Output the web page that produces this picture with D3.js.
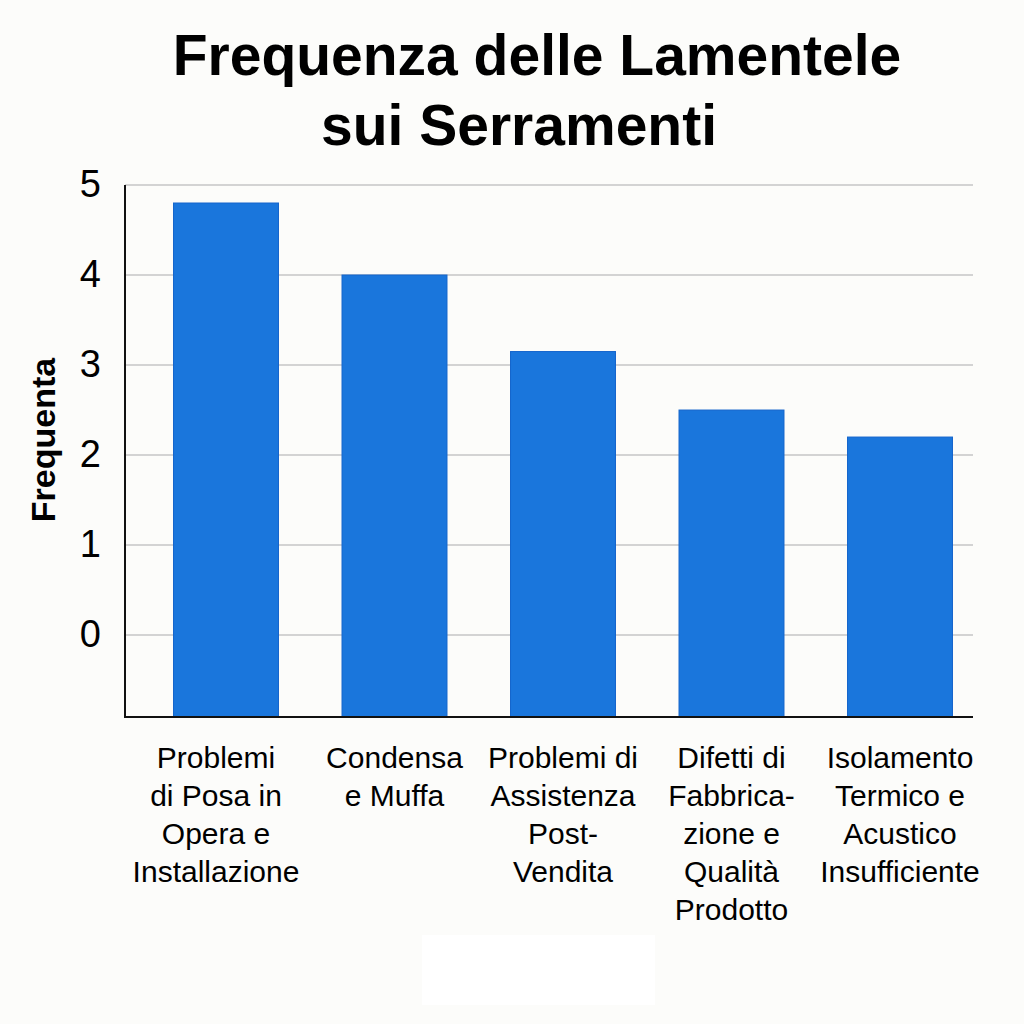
<!DOCTYPE html>
<html>
<head>
<meta charset="utf-8">
<script src="https://cdn.jsdelivr.net/npm/d3@7"></script>
<style>
  html, body { margin: 0; padding: 0; background: #fcfcfa; }
  svg { display: block; font-family: "Liberation Sans", Arial, sans-serif; }
</style>
</head>
<body>
<svg id="chart" width="1024" height="1024"></svg>
<script>
// data
var categories = [
    ["Problemi", "di Posa in", "Opera e", "Installazione"],
    ["Condensa", "e Muffa"],
    ["Problemi di", "Assistenza", "Post-", "Vendita"],
    ["Difetti di", "Fabbrica-", "zione e", "Qualità", "Prodotto"],
    ["Isolamento", "Termico e", "Acustico", "Insufficiente"]
];
var values = [4.8, 4.0, 3.15, 2.5, 2.2];
var yTicks = [0, 1, 2, 3, 4, 5];
var titleLines = ["Frequenza delle Lamentele", "sui Serramenti"];
var yLabel = "Frequenta";

(function() {
    var svg = d3.select('svg#chart');

    // plot area edges (note: "top" is taken by window.top)
    var plotLeft = 125, plotRight = 973, plotTop = 185, plotBottom = 717;

    var x = d3.scaleBand()
        .domain(d3.range(values.length))
        .range([141.75, 984.25])
        .paddingInner(0.377)
        .paddingOuter(0.1885);

    var y = d3.scaleLinear()
        .domain([-0.91, 5])
        .range([plotBottom, plotTop]);

    // small white patch under the chart
    svg.append('rect')
        .attr('x', 422).attr('y', 935)
        .attr('width', 233).attr('height', 70)
        .attr('fill', '#ffffff');

    // title
    svg.append('g').selectAll('text').data(titleLines).enter()
        .append('text')
        .attr('x', function(d, i) { return i === 0 ? 537 : 519; })
        .attr('y', function(d, i) { return 75 + i * 70; })
        .attr('text-anchor', 'middle')
        .attr('font-size', 57)
        .attr('font-weight', 'bold')
        .attr('fill', '#000')
        .text(function(d) { return d; });

    // gridlines
    svg.append('g').selectAll('line').data(yTicks).enter()
        .append('line')
        .attr('x1', plotLeft).attr('x2', plotRight)
        .attr('y1', function(d) { return y(d); })
        .attr('y2', function(d) { return y(d); })
        .attr('stroke', '#c6c6c6')
        .attr('stroke-width', 1.5);

    // y axis with tick labels
    var yAxis = d3.axisLeft(y).tickValues(yTicks).tickSize(0).tickPadding(24)
        .tickFormat(d3.format('d'));
    var gy = svg.append('g')
        .attr('transform', 'translate(' + plotLeft + ',0)')
        .call(yAxis);
    gy.select('.domain').remove();
    gy.selectAll('text')
        .attr('font-size', 38)
        .attr('font-family', '"Liberation Sans", Arial, sans-serif')
        .attr('fill', '#000')
        .attr('dy', '0.3em');

    // bars
    svg.append('g').selectAll('rect').data(values).enter()
        .append('rect')
        .attr('x', function(d, i) { return x(i); })
        .attr('y', function(d) { return y(d); })
        .attr('width', x.bandwidth())
        .attr('height', function(d) { return plotBottom - y(d); })
        .attr('fill', '#1a76dc')
        .attr('stroke', '#1565cc')
        .attr('stroke-width', 1);

    // axis lines
    svg.append('line')
        .attr('x1', plotLeft).attr('x2', plotLeft)
        .attr('y1', plotTop).attr('y2', plotBottom + 1)
        .attr('stroke', '#111').attr('stroke-width', 2);
    svg.append('line')
        .attr('x1', plotLeft - 1).attr('x2', plotRight)
        .attr('y1', plotBottom).attr('y2', plotBottom)
        .attr('stroke', '#111').attr('stroke-width', 2);

    // category labels, one tspan per line
    var labels = svg.append('g').selectAll('text').data(categories).enter()
        .append('text')
        .attr('text-anchor', 'middle')
        .attr('font-size', 30)
        .attr('fill', '#000');
    labels.selectAll('tspan').data(function(d, i) {
            return d.map(function(s) { return { s: s, i: i }; });
        }).enter()
        .append('tspan')
        .attr('x', function(d) { return x(d.i) + x.bandwidth() / 2 + (d.i === 0 ? -10 : 0); })
        .attr('y', function(d, j) { return 768 + j * 38; })
        .text(function(d) { return d.s; });

    // y axis title
    svg.append('text')
        .attr('transform', 'translate(55,440) rotate(-90)')
        .attr('text-anchor', 'middle')
        .attr('font-size', 34)
        .attr('font-weight', 'bold')
        .attr('fill', '#000')
        .text(yLabel);
})();
</script>
</body>
</html>
